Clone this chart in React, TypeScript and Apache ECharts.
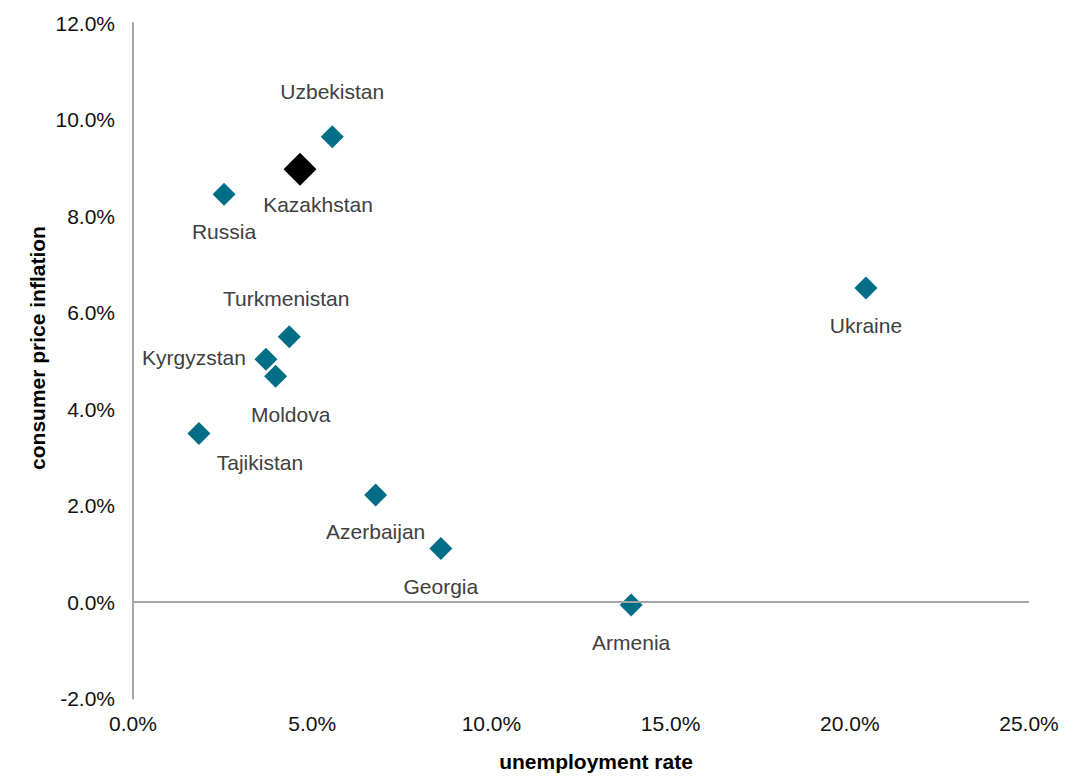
import React, { useEffect, useRef } from "react";
import * as echarts from "echarts";

// Unemployment rate (%) vs consumer price inflation (%) by country
const countries = [
  "Uzbekistan",
  "Kazakhstan",
  "Russia",
  "Ukraine",
  "Turkmenistan",
  "Kyrgyzstan",
  "Moldova",
  "Tajikistan",
  "Azerbaijan",
  "Georgia",
  "Armenia",
];
const unemployment = [5.56, 4.66, 2.54, 20.45, 4.36, 3.71, 3.98, 1.84, 6.77, 8.59, 13.9];
const inflation = [9.64, 8.97, 8.45, 6.51, 5.5, 5.03, 4.68, 3.49, 2.22, 1.11, -0.06];

const xTicks = [0, 5, 10, 15, 20, 25];
const yTicks = [-2, 0, 2, 4, 6, 8, 10, 12];

const highlighted = "Kazakhstan";

// label placement around each marker (pixel offsets from marker centre)
const labelOffsets: Record<string, [number, number]> = {
  Uzbekistan: [0, -45],
  Kazakhstan: [18, 35],
  Russia: [0, 37],
  Ukraine: [0, 38],
  Turkmenistan: [-3, -38],
  Kyrgyzstan: [-72, -2],
  Moldova: [15, 38],
  Tajikistan: [61, 29],
  Azerbaijan: [0, 37],
  Georgia: [0, 38],
  Armenia: [0, 38],
};

const FONT = "'Liberation Sans', Arial, Helvetica, sans-serif";
const FONT_SIZE = 21;
const TEAL = "#006e87";
const AXIS_GREY = "#a6a6a6";

export default function App() {
  const ref = useRef<HTMLDivElement>(null);

  useEffect(() => {
    if (!ref.current) return;
    const chart = echarts.init(ref.current, undefined, { renderer: "svg" });

    const data = countries.map((name, i) => {
      const isHi = name === highlighted;
      return {
        name,
        value: [unemployment[i], inflation[i]],
        symbolSize: isHi ? 33 : 23,
        itemStyle: { color: isHi ? "#000000" : TEAL, opacity: 1 },
        label: { offset: labelOffsets[name] },
      };
    });

    chart.setOption({
      animation: false,
      backgroundColor: "#ffffff",
      grid: { left: 133, right: 57, top: 23, bottom: 78.5, containLabel: false },
      xAxis: {
        type: "value",
        min: xTicks[0],
        max: xTicks[xTicks.length - 1],
        interval: 5,
        axisLine: { show: false },
        axisTick: { show: false },
        splitLine: { show: false },
        axisLabel: {
          margin: 14,
          color: "#111111",
          fontSize: FONT_SIZE,
          fontFamily: FONT,
          formatter: (v: number) => v.toFixed(1) + "%",
        },
      },
      yAxis: {
        type: "value",
        min: yTicks[0],
        max: yTicks[yTicks.length - 1],
        interval: 2,
        axisLine: { show: true, onZero: false, lineStyle: { color: AXIS_GREY, width: 2 } },
        axisTick: { show: false },
        splitLine: { show: false },
        axisLabel: {
          margin: 18,
          color: "#111111",
          fontSize: FONT_SIZE,
          fontFamily: FONT,
          formatter: (v: number) => v.toFixed(1) + "%",
        },
      },
      graphic: [
        {
          type: "text",
          x: 596,
          y: 761,
          style: {
            text: "unemployment rate",
            font: `bold ${FONT_SIZE}px ${FONT}`,
            fill: "#000000",
            textAlign: "center",
            textVerticalAlign: "middle",
          },
        },
        {
          type: "text",
          x: 37,
          y: 348,
          rotation: Math.PI / 2,
          style: {
            text: "consumer price inflation",
            font: `bold ${FONT_SIZE}px ${FONT}`,
            fill: "#000000",
            textAlign: "center",
            textVerticalAlign: "middle",
          },
        },
      ],
      series: [
        {
          type: "scatter",
          symbol: "diamond",
          data,
          itemStyle: { opacity: 1 },
          label: {
            show: true,
            position: "inside",
            formatter: (p: any) => p.name,
            color: "#404040",
            fontSize: FONT_SIZE,
            fontFamily: FONT,
            textBorderWidth: 0,
            textBorderColor: "transparent",
          },
          markLine: {
            silent: true,
            symbol: "none",
            label: { show: false },
            lineStyle: { color: AXIS_GREY, width: 2, type: "solid", opacity: 1 },
            data: [{ yAxis: 0 }],
          },
          z: 3,
        },
      ],
    });

    return () => chart.dispose();
  }, []);

  return (
    <div
      ref={ref}
      style={{ position: "absolute", left: 0, top: 0, width: 1086, height: 777 }}
    />
  );
}
